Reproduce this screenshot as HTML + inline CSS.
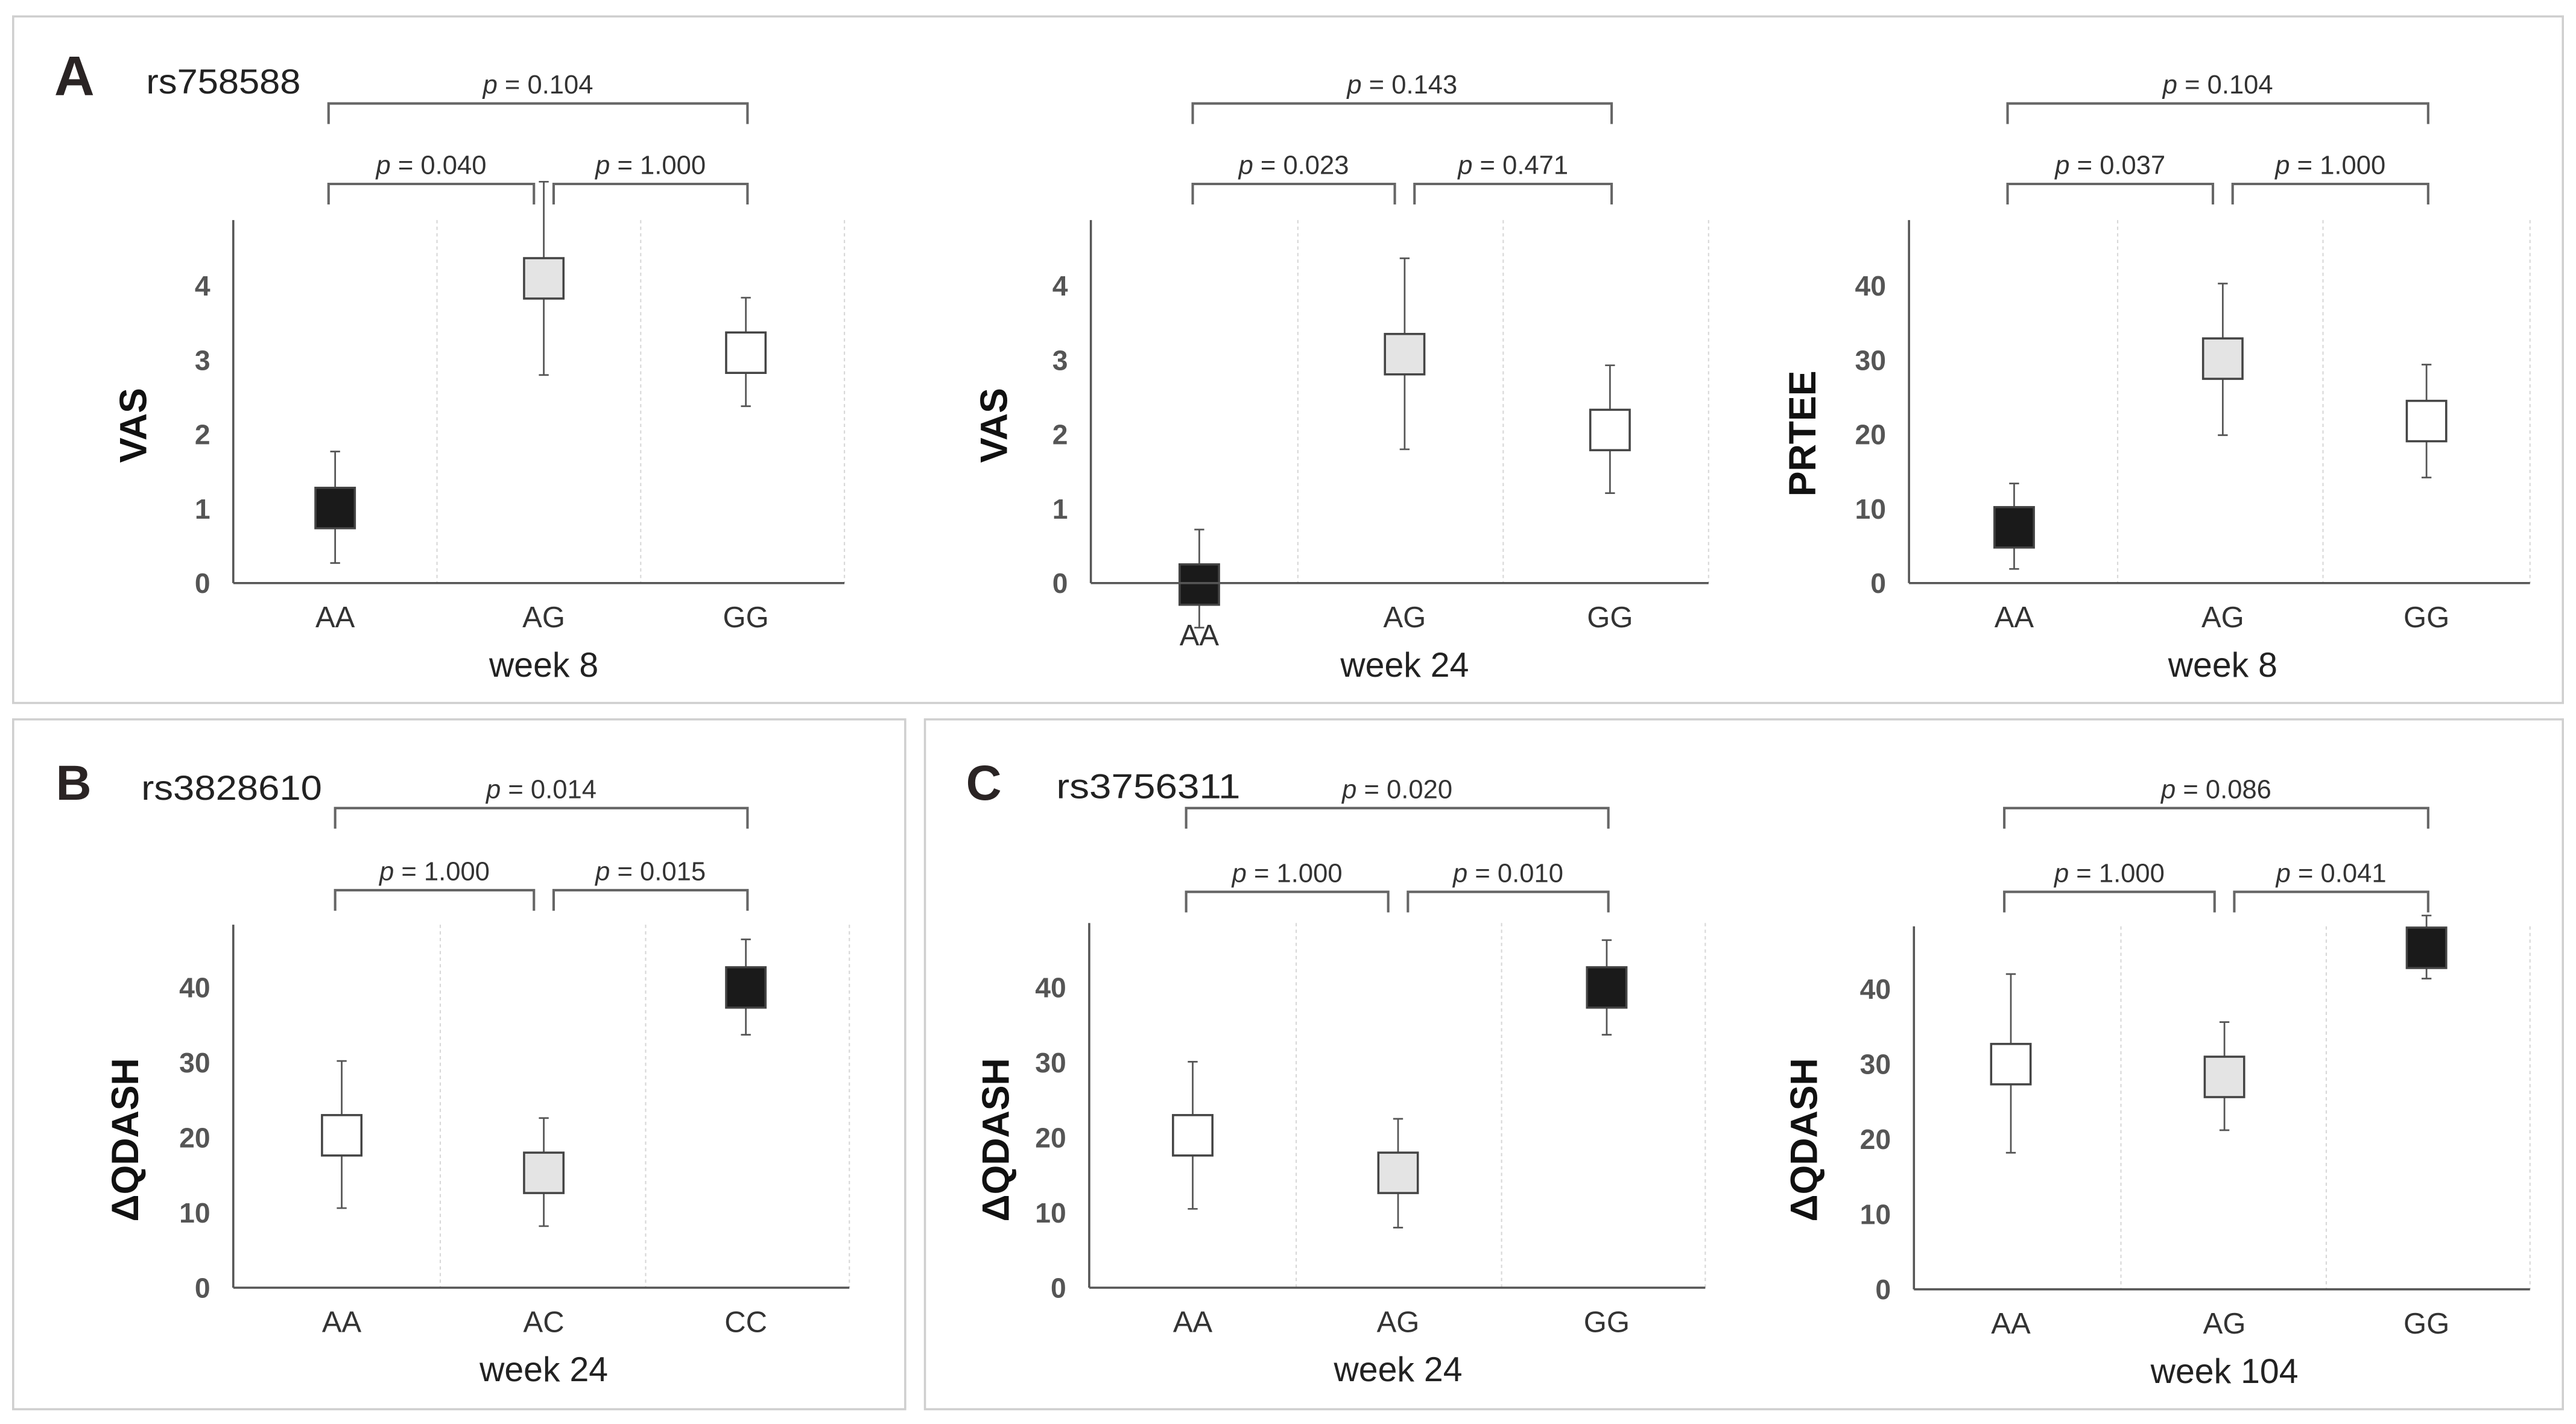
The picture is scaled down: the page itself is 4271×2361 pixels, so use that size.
<!DOCTYPE html>
<html><head><meta charset="utf-8"><style>
html,body{margin:0;padding:0;background:#fff;}
svg{display:block;}
text{font-family:"Liberation Sans",sans-serif;}
</style></head><body>
<svg id="fig" xmlns="http://www.w3.org/2000/svg" width="4271" height="2361" viewBox="0 0 1568 867" preserveAspectRatio="none">
<rect x="0" y="0" width="1568" height="867" fill="#ffffff"/>
<rect x="8" y="10" width="1552" height="418" fill="none" stroke="#cfcfcf" stroke-width="1.3"/>
<rect x="8" y="438" width="543" height="420" fill="none" stroke="#cfcfcf" stroke-width="1.3"/>
<rect x="563" y="438" width="997" height="420" fill="none" stroke="#cfcfcf" stroke-width="1.3"/>
<text x="33" y="58" font-size="34" font-weight="bold" fill="#2a2424">A</text>
<text x="89" y="57" font-size="21" fill="#222" textLength="94" lengthAdjust="spacingAndGlyphs">rs758588</text>
<text x="34" y="487" font-size="30" font-weight="bold" fill="#2a2424">B</text>
<text x="86" y="487" font-size="21" fill="#222" textLength="110" lengthAdjust="spacingAndGlyphs">rs3828610</text>
<text x="588" y="487" font-size="30" font-weight="bold" fill="#2a2424">C</text>
<text x="643" y="486" font-size="21" fill="#222" textLength="112" lengthAdjust="spacingAndGlyphs">rs3756311</text>
<g id="charts"></g>
</svg>
<script>
// ---- data ----
const a1Categories = ["AA","AG","GG"];
const a1Means = [1.01, 4.1, 3.1];
const a1Low = [0.27, 2.8, 2.38];
const a1High = [1.77, 5.4, 3.84];
const a1Ticks = [0,1,2,3,4];
const a1PValues = ["0.040","1.000","0.104"];

const a2Categories = ["AA","AG","GG"];
const a2Means = [-0.02, 3.08, 2.06];
const a2Low = [-0.6, 1.8, 1.21];
const a2High = [0.72, 4.37, 2.93];
const a2Ticks = [0,1,2,3,4];
const a2PValues = ["0.023","0.471","0.143"];

const a3Categories = ["AA","AG","GG"];
const a3Means = [7.5, 30.2, 21.8];
const a3Low = [1.9, 19.9, 14.2];
const a3High = [13.4, 40.3, 29.4];
const a3Ticks = [0,10,20,30,40];
const a3PValues = ["0.037","1.000","0.104"];

const bCategories = ["AA","AC","CC"];
const bMeans = [20.3, 15.3, 40.0];
const bLow = [10.6, 8.2, 33.7];
const bHigh = [30.2, 22.6, 46.4];
const bTicks = [0,10,20,30,40];
const bPValues = ["1.000","0.015","0.014"];

const c1Categories = ["AA","AG","GG"];
const c1Means = [20.3, 15.3, 40.0];
const c1Low = [10.5, 8.0, 33.7];
const c1High = [30.1, 22.5, 46.3];
const c1Ticks = [0,10,20,30,40];
const c1PValues = ["1.000","0.010","0.020"];

const c2Categories = ["AA","AG","GG"];
const c2Means = [30.0, 28.3, 45.5];
const c2Low = [18.2, 21.2, 41.4];
const c2High = [42.0, 35.6, 49.8];
const c2Ticks = [0,10,20,30,40];
const c2PValues = ["1.000","0.041","0.086"];

// ---- layout (not data) ----
const BLACK="#1a1a1a", GREY="#e4e4e4", WHITE="#ffffff";
const charts = [
 {id:"a1", cats:a1Categories, m:a1Means, lo:a1Low, hi:a1High, ticks:a1Ticks, p:a1PValues,
  ax:142, base:355, top:134, ppu:45.25, cx:[204,331,454], grid:[266,390,514], xEnd:514,
  fills:[BLACK,GREY,WHITE], ylab:"VAS", ylx:81, yly:259, week:"week 8", br:[63,112], lowAA:false},
 {id:"a2", cats:a2Categories, m:a2Means, lo:a2Low, hi:a2High, ticks:a2Ticks, p:a2PValues,
  ax:664, base:355, top:134, ppu:45.25, cx:[730,855,980], grid:[790,915,1040], xEnd:1040,
  fills:[BLACK,GREY,WHITE], ylab:"VAS", ylx:605, yly:259, week:"week 24", br:[63,112], lowAA:true},
 {id:"a3", cats:a3Categories, m:a3Means, lo:a3Low, hi:a3High, ticks:a3Ticks, p:a3PValues,
  ax:1162, base:355, top:134, ppu:4.525, cx:[1226,1353,1477], grid:[1289,1414,1540], xEnd:1540,
  fills:[BLACK,GREY,WHITE], ylab:"PRTEE", ylx:1097, yly:264, week:"week 8", br:[63,112], lowAA:false},
 {id:"b", cats:bCategories, m:bMeans, lo:bLow, hi:bHigh, ticks:bTicks, p:bPValues,
  ax:142, base:784, top:563, ppu:4.57, cx:[208,331,454], grid:[268,393,517], xEnd:517,
  fills:[WHITE,GREY,BLACK], ylab:"\u0394QDASH", ylx:76, yly:694, week:"week 24", br:[492,542], lowAA:false},
 {id:"c1", cats:c1Categories, m:c1Means, lo:c1Low, hi:c1High, ticks:c1Ticks, p:c1PValues,
  ax:663, base:784, top:562, ppu:4.57, cx:[726,851,978], grid:[789,914,1038], xEnd:1038,
  fills:[WHITE,GREY,BLACK], ylab:"\u0394QDASH", ylx:606, yly:694, week:"week 24", br:[492,543], lowAA:false},
 {id:"c2", cats:c2Categories, m:c2Means, lo:c2Low, hi:c2High, ticks:c2Ticks, p:c2PValues,
  ax:1165, base:785, top:564, ppu:4.57, cx:[1224,1354,1477], grid:[1291,1416,1540], xEnd:1540,
  fills:[WHITE,GREY,BLACK], ylab:"\u0394QDASH", ylx:1098, yly:694, week:"week 104", br:[492,543], lowAA:false}
];
const NS="http://www.w3.org/2000/svg";
const root=document.getElementById("charts");
function mk(tag, attrs, parent){
  const e=document.createElementNS(NS,tag);
  for(const k in attrs) e.setAttribute(k, attrs[k]);
  parent.appendChild(e); return e;
}
function pText(g, x, y, val){
  const t=mk("text",{x:x,y:y,"text-anchor":"middle","font-size":16,fill:"#333"},g);
  const i=document.createElementNS(NS,"tspan"); i.setAttribute("font-style","italic"); i.textContent="p"; t.appendChild(i);
  const r=document.createElementNS(NS,"tspan"); r.textContent=" = "+val; t.appendChild(r);
  return t;
}
charts.forEach(c=>{
  const g=mk("g",{},root);
  
  
  const y=v=>c.base - v*c.ppu;
  // gridlines
  c.grid.forEach((gx,i)=>{
    const l=mk("line",{x1:gx,y1:c.top,x2:gx,y2:c.base,stroke:"#d8d8d8","stroke-width":0.8,"stroke-dasharray":"2,2"},g);
    
    
  });
  // axes
  const ya=mk("line",{x1:c.ax,y1:c.top,x2:c.ax,y2:c.base,stroke:"#555","stroke-width":1.3},g);
  
  
  // ticks
  c.ticks.forEach(tv=>{
    const t=mk("text",{x:c.ax-14,y:y(tv)+6,"text-anchor":"end","font-size":17,"font-weight":"bold",fill:"#555"},g);
    t.textContent=String(tv);
    
    
  });
  // y label
  const yl=mk("text",{x:0,y:0,"text-anchor":"middle","font-size":23,"font-weight":"bold",fill:"#111",
     transform:`translate(${c.ylx+8},${c.yly}) rotate(-90)`},g);
  yl.textContent=c.ylab;
  
  
  // marks
  c.m.forEach((v,i)=>{
    const x=c.cx[i];
    const eb=mk("g",{},g);
    
    
    mk("line",{x1:x,y1:y(c.hi[i]),x2:x,y2:y(c.lo[i]),stroke:"#555","stroke-width":1},eb);
    mk("line",{x1:x-3,y1:y(c.hi[i]),x2:x+3,y2:y(c.hi[i]),stroke:"#555","stroke-width":1},eb);
    mk("line",{x1:x-3,y1:y(c.lo[i]),x2:x+3,y2:y(c.lo[i]),stroke:"#555","stroke-width":1},eb);
    const b=mk("rect",{x:x-12,y:y(v)-12.3,width:24,height:24.6,fill:c.fills[i],stroke:"#444","stroke-width":1.3},g);
    
    
    const cl=mk("text",{x:x,y:(c.lowAA&&i===0)?c.base+38:c.base+27,"text-anchor":"middle","font-size":18,fill:"#333"},g);
    cl.textContent=c.cats[i];
    
    
  });
  const xa=mk("line",{x1:c.ax,y1:c.base,x2:c.xEnd,y2:c.base,stroke:"#555","stroke-width":1.3},g);
  
  
  const wk=mk("text",{x:c.cx[1],y:c.base+57,"text-anchor":"middle","font-size":21,fill:"#222"},g);
  wk.textContent=c.week;
  
  
  // brackets
  const x0=c.cx[0]-4, x1=c.cx[1], x2=c.cx[2]+1;
  const top=c.br[0], low=c.br[1];
  const pairs=[[x0,x1-6,low],[x1+6,x2,low],[x0,x2,top]];
  pairs.forEach((pr,i)=>{
    const bg=mk("g",{},g);
    
    
    mk("path",{d:`M${pr[0]},${pr[2]+12.5} V${pr[2]} H${pr[1]} V${pr[2]+12.5}`,fill:"none",stroke:"#666","stroke-width":1.5},bg);
    const t=pText(bg,(pr[0]+pr[1])/2,pr[2]-6,c.p[i]);
    
    
  });
});
</script>
</body></html>
